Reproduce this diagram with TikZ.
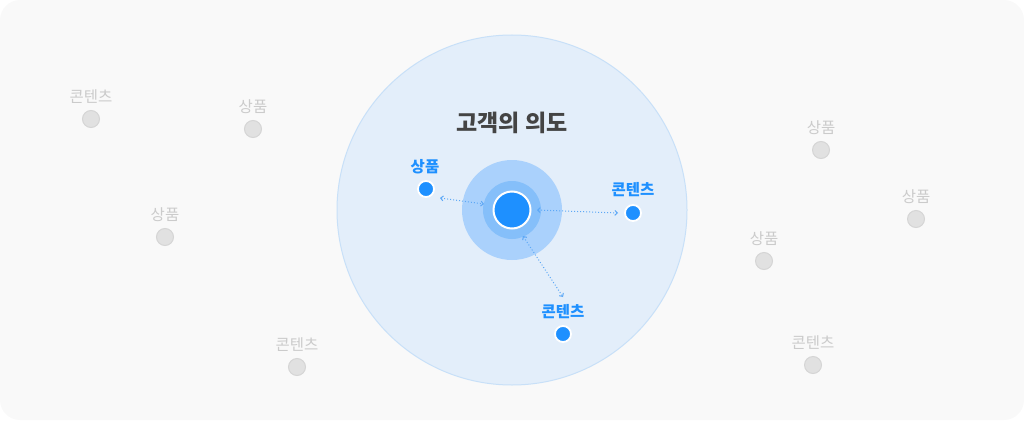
\documentclass[tikz,border=0pt]{standalone}
\usepackage{fontspec}
\newfontfamily\kr{Noto Sans CJK KR}
\usetikzlibrary{arrows.meta}
\definecolor{bgc}{HTML}{F9F9F9}
\definecolor{bigc}{HTML}{E3EEFA}
\definecolor{bigb}{HTML}{C8E0F8}
\definecolor{midc}{HTML}{AAD1FC}
\definecolor{ringc}{HTML}{85BFFA}
\definecolor{corec}{HTML}{1E90FF}
\definecolor{grayd}{HTML}{E1E1E1}
\definecolor{grayb}{HTML}{D5D5D5}
\definecolor{grayt}{HTML}{CBCBCB}
\definecolor{titlec}{HTML}{444444}
\definecolor{arrc}{HTML}{5DA8F6}
\tikzset{
  graydot/.style={circle, fill=grayd, draw=grayb, line width=1pt, minimum size=17pt, inner sep=0pt},
  graylbl/.style={font=\kr\fontsize{15.5}{15.5}\selectfont, text=grayt, inner sep=0pt},
  bluedot/.style={circle, fill=corec, draw=white, line width=1.8pt, minimum size=16pt, inner sep=0pt},
  bluelbl/.style={font=\kr\bfseries\fontsize{15.5}{15.5}\selectfont, text=corec, inner sep=0pt},
  link/.style={draw=arrc, line width=1pt, dotted, {Straight Barb[length=2.5pt,width=5pt]}-{Straight Barb[length=2.5pt,width=5pt]}}
}
\begin{document}
\begin{tikzpicture}[x=1pt,y=-1pt]
\useasboundingbox (0,0) rectangle (1024,420);
\fill[bgc, rounded corners=20pt] (0,0) rectangle (1024,420);
% big circle
\node (big) [circle, fill=bigc, draw=bigb, line width=1pt, minimum size=350pt, inner sep=0pt] at (512,210) {};
\node (mid) [circle, fill=midc, minimum size=100pt, inner sep=0pt] at (512,210) {};
\node (ring) [circle, fill=ringc, minimum size=58pt, inner sep=0pt] at (512,210) {};
\node (core) [circle, fill=corec, draw=white, line width=2pt, minimum size=37pt, inner sep=0pt] at (512,210) {};
\node (title) [font=\kr\bfseries\fontsize{23}{23}\selectfont, text=titlec, inner sep=0pt] at (512,123) {고객의 의도};
% gray nodes
\node (g1) [graydot] at (91,119) {};
\node (g1l) [graylbl] at (91,97) {콘텐츠};
\node (g2) [graydot] at (253,129) {};
\node (g2l) [graylbl] at (253,107) {상품};
\node (g3) [graydot] at (165,237) {};
\node (g3l) [graylbl] at (165,215) {상품};
\node (g4) [graydot] at (297,367) {};
\node (g4l) [graylbl] at (297,345) {콘텐츠};
\node (g5) [graydot] at (821,150) {};
\node (g5l) [graylbl] at (821,128) {상품};
\node (g6) [graydot] at (916,219) {};
\node (g6l) [graylbl] at (916,197) {상품};
\node (g7) [graydot] at (764,261) {};
\node (g7l) [graylbl] at (764,239) {상품};
\node (g8) [graydot] at (813,365) {};
\node (g8l) [graylbl] at (813,343) {콘텐츠};
% blue nodes
\node (b1) [bluedot] at (426,189) {};
\node (b1l) [bluelbl] at (425,167) {상품};
\node (b2) [bluedot] at (633,213) {};
\node (b2l) [bluelbl] at (633,190) {콘텐츠};
\node (b3) [bluedot] at (563,334) {};
\node (b3l) [bluelbl] at (563,312) {콘텐츠};
% link end points
\coordinate (c1) at (484,204);
\coordinate (d1) at (440,198);
\coordinate (c2) at (537,210);
\coordinate (d2) at (618,213);
\coordinate (c3) at (523,236);
\coordinate (d3) at (563,297);
\draw[link] (d1) -- (c1);
\draw[link] (c2) -- (d2);
\draw[link] (c3) -- (d3);
\end{tikzpicture}
\end{document}
